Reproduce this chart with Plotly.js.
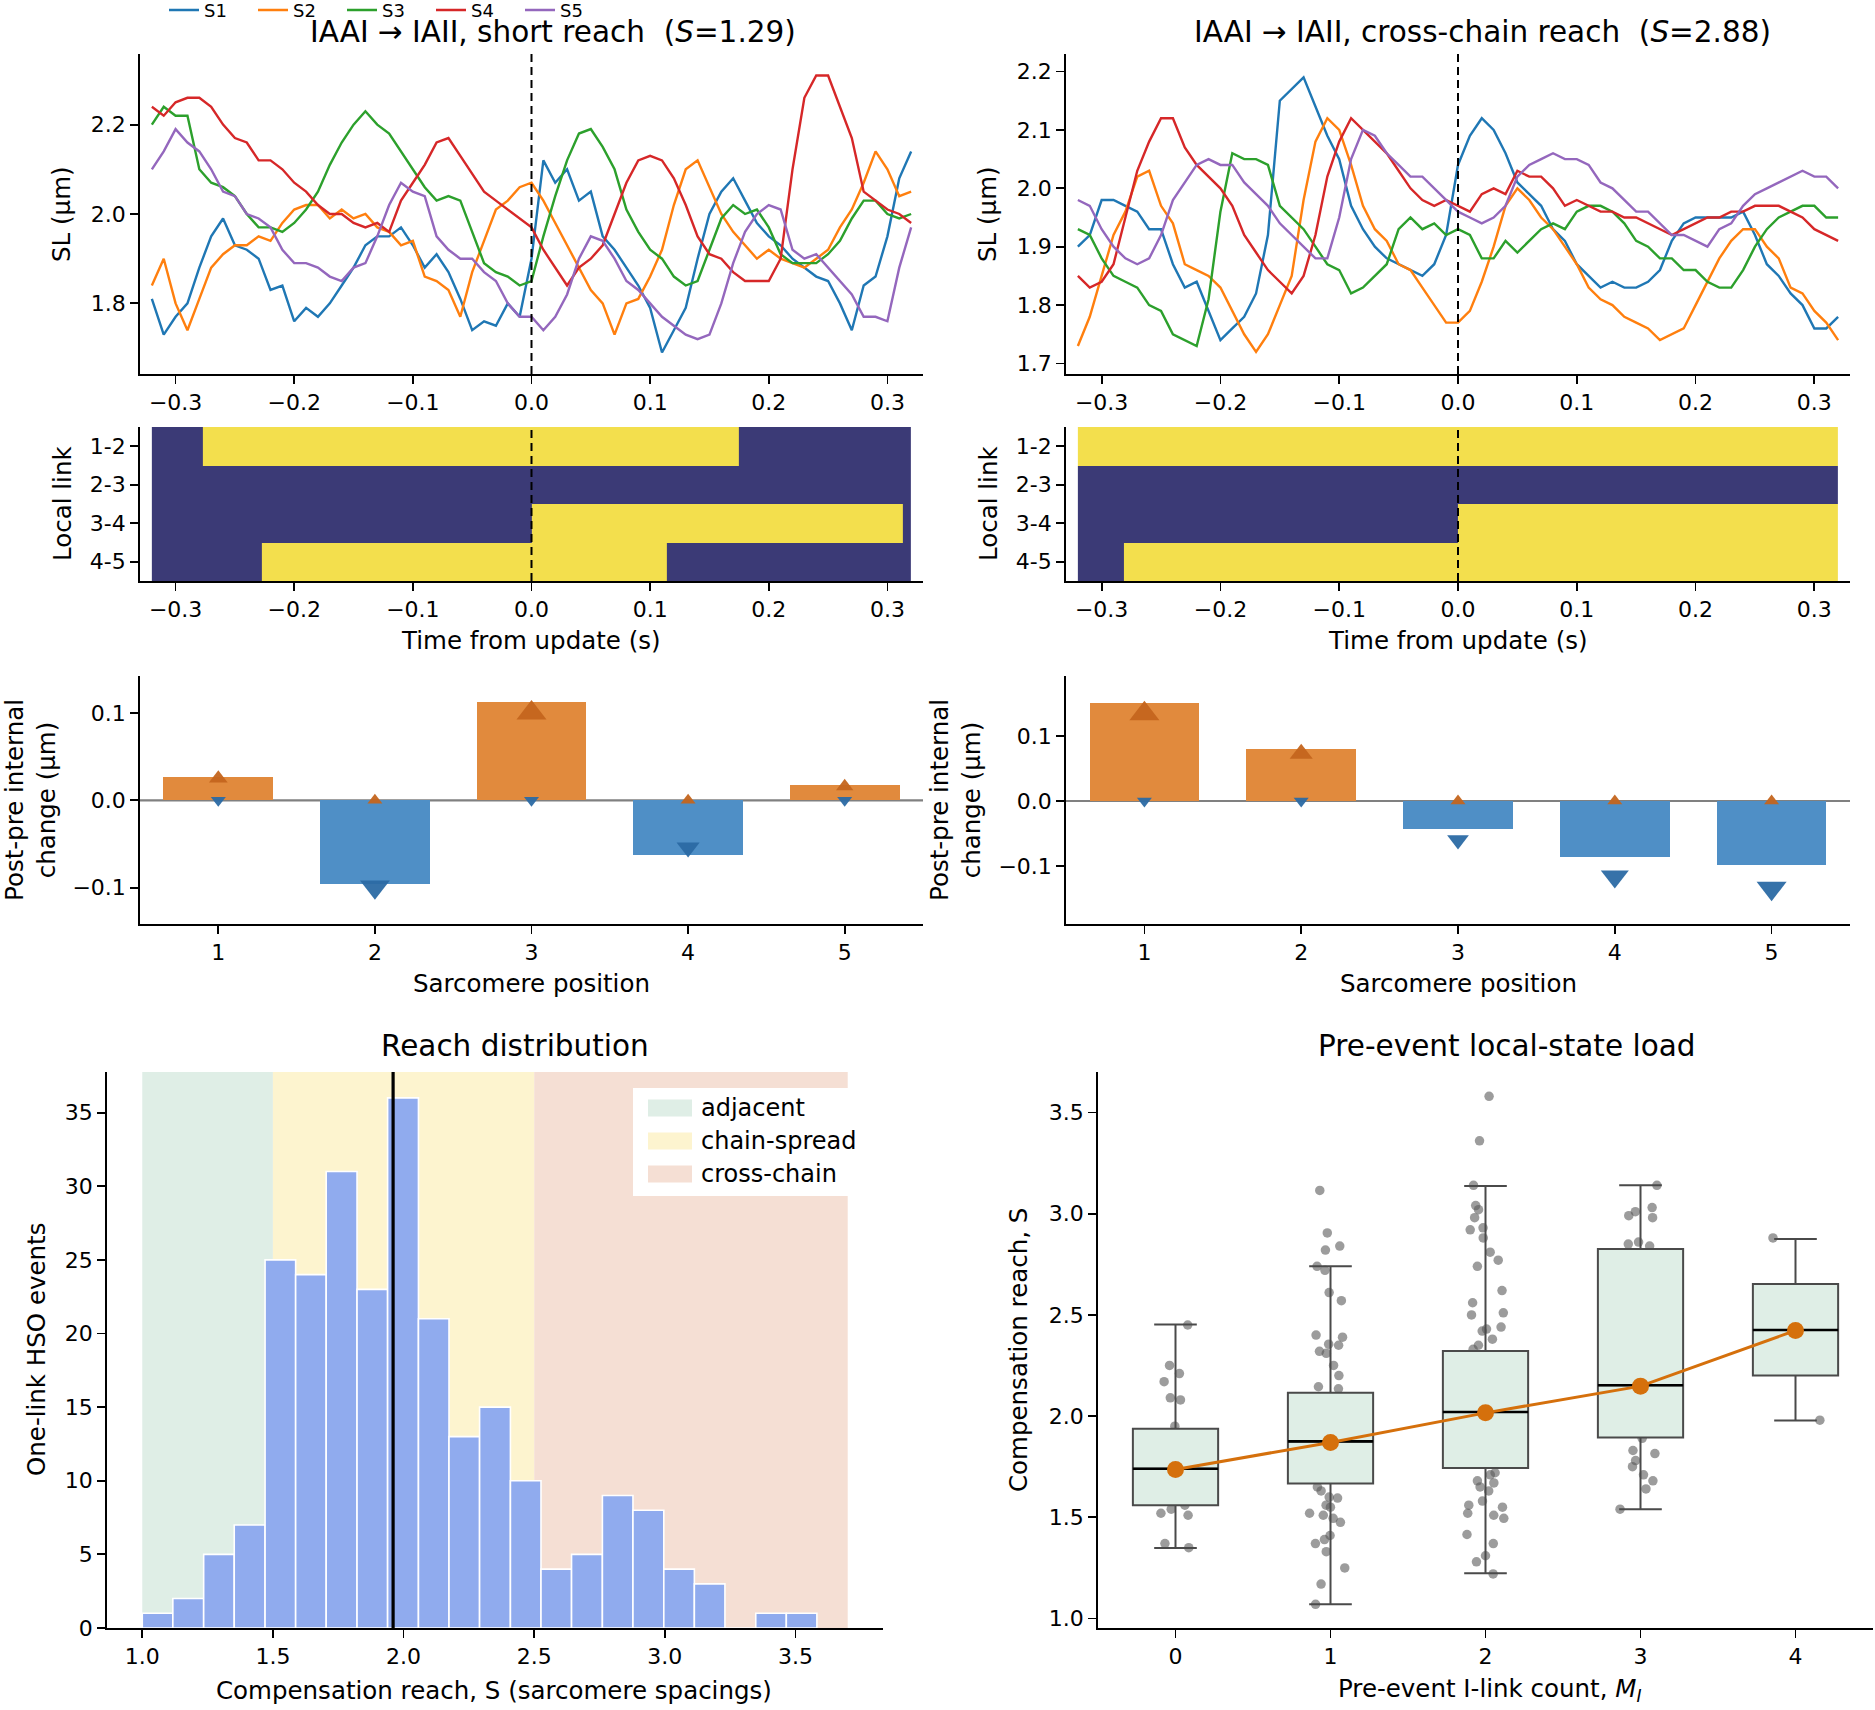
<!DOCTYPE html>
<html><head><meta charset="utf-8">
<script src="https://cdn.plot.ly/plotly-3.0.1.min.js"></script>
<style>html,body{margin:0;padding:0;background:#fff}#chart{width:1875px;height:1710px}</style>
</head><body><div id="chart"></div>
<script>
// ---------------- DATA ----------------
const seriesNames = ['S1','S2','S3','S4','S5'];
const seriesColors = ['#1f77b4','#ff7f0e','#2ca02c','#d62728','#9467bd'];
const time = [-0.32,-0.31,-0.30,-0.29,-0.28,-0.27,-0.26,-0.25,-0.24,-0.23,-0.22,-0.21,-0.20,-0.19,-0.18,-0.17,-0.16,-0.15,-0.14,-0.13,-0.12,-0.11,-0.10,-0.09,-0.08,-0.07,-0.06,-0.05,-0.04,-0.03,-0.02,-0.01,0.00,0.01,0.02,0.03,0.04,0.05,0.06,0.07,0.08,0.09,0.10,0.11,0.12,0.13,0.14,0.15,0.16,0.17,0.18,0.19,0.20,0.21,0.22,0.23,0.24,0.25,0.26,0.27,0.28,0.29,0.30,0.31,0.32];

// short reach event (S=1.29)
const shortS1 = [1.81,1.73,1.77,1.80,1.88,1.95,1.99,1.93,1.92,1.90,1.83,1.84,1.76,1.79,1.77,1.80,1.84,1.88,1.93,1.95,1.95,1.97,1.93,1.88,1.91,1.87,1.81,1.74,1.76,1.75,1.80,1.77,1.90,2.12,2.07,2.10,2.03,2.05,1.95,1.92,1.88,1.84,1.79,1.69,1.74,1.79,1.90,2.00,2.05,2.08,2.03,1.98,1.95,1.93,1.90,1.88,1.86,1.85,1.80,1.74,1.84,1.86,1.95,2.08,2.14];
const shortS2 = [1.84,1.90,1.80,1.74,1.81,1.88,1.91,1.93,1.93,1.95,1.94,1.98,2.01,2.02,2.02,1.99,2.01,1.99,2.00,1.97,1.96,1.93,1.94,1.86,1.85,1.83,1.77,1.87,1.94,2.01,2.03,2.06,2.07,2.03,1.98,1.93,1.88,1.83,1.80,1.73,1.80,1.81,1.86,1.92,2.02,2.10,2.12,2.06,2.00,1.96,1.93,1.90,1.92,1.90,1.89,1.88,1.90,1.92,1.97,2.01,2.07,2.14,2.10,2.04,2.05];
const shortS3 = [2.20,2.24,2.22,2.22,2.10,2.07,2.06,2.04,2.00,1.97,1.97,1.96,1.98,2.01,2.05,2.11,2.16,2.20,2.23,2.20,2.18,2.14,2.10,2.06,2.03,2.04,2.03,1.96,1.89,1.87,1.86,1.84,1.85,1.95,2.04,2.12,2.18,2.19,2.15,2.10,2.01,1.96,1.92,1.90,1.86,1.84,1.85,1.92,1.99,2.02,2.00,2.01,1.97,1.91,1.89,1.89,1.89,1.91,1.94,1.99,2.03,2.03,2.00,1.99,2.00];
const shortS4 = [2.24,2.22,2.25,2.26,2.26,2.24,2.20,2.17,2.16,2.12,2.12,2.10,2.07,2.05,2.02,2.00,2.00,1.98,1.97,1.98,1.96,2.03,2.07,2.11,2.16,2.17,2.13,2.09,2.05,2.03,2.01,1.99,1.97,1.92,1.88,1.84,1.88,1.90,1.93,2.00,2.07,2.12,2.13,2.12,2.08,2.02,1.95,1.91,1.90,1.87,1.85,1.85,1.85,1.90,2.10,2.26,2.31,2.31,2.24,2.17,2.05,2.03,2.01,2.00,1.98];
const shortS5 = [2.10,2.14,2.19,2.16,2.14,2.10,2.05,2.04,2.00,1.99,1.97,1.92,1.89,1.89,1.88,1.86,1.85,1.88,1.89,1.95,2.02,2.07,2.05,2.04,1.95,1.92,1.90,1.90,1.87,1.85,1.80,1.77,1.77,1.74,1.77,1.82,1.90,1.95,1.94,1.90,1.85,1.83,1.80,1.77,1.75,1.73,1.72,1.73,1.80,1.89,1.96,2.00,2.02,2.01,1.92,1.90,1.91,1.88,1.85,1.82,1.77,1.77,1.76,1.88,1.97];

// cross-chain event (S=2.88)
const crossS1 = [1.90,1.92,1.98,1.98,1.97,1.96,1.93,1.93,1.87,1.83,1.84,1.79,1.74,1.76,1.78,1.82,1.92,2.15,2.17,2.19,2.14,2.09,2.05,1.97,1.93,1.90,1.88,1.87,1.86,1.85,1.87,1.92,2.04,2.09,2.12,2.10,2.06,2.01,1.99,1.97,1.93,1.91,1.87,1.85,1.83,1.84,1.83,1.83,1.84,1.86,1.91,1.94,1.95,1.95,1.95,1.95,1.96,1.92,1.87,1.85,1.82,1.80,1.76,1.76,1.78];
const crossS2 = [1.73,1.78,1.85,1.92,1.96,2.02,2.03,1.97,1.94,1.87,1.86,1.85,1.83,1.79,1.75,1.72,1.75,1.80,1.85,1.98,2.08,2.12,2.10,2.04,1.97,1.93,1.91,1.87,1.86,1.83,1.80,1.77,1.77,1.79,1.84,1.90,1.97,2.00,1.98,1.95,1.93,1.90,1.87,1.83,1.81,1.80,1.78,1.77,1.76,1.74,1.75,1.76,1.80,1.84,1.88,1.91,1.93,1.93,1.90,1.88,1.83,1.82,1.79,1.77,1.74];
const crossS3 = [1.93,1.92,1.88,1.85,1.84,1.83,1.80,1.79,1.75,1.74,1.73,1.81,1.96,2.06,2.05,2.05,2.04,1.97,1.95,1.93,1.90,1.87,1.86,1.82,1.83,1.85,1.87,1.93,1.95,1.93,1.94,1.92,1.93,1.92,1.88,1.88,1.91,1.89,1.91,1.93,1.94,1.93,1.96,1.97,1.97,1.96,1.94,1.91,1.90,1.88,1.88,1.86,1.86,1.84,1.83,1.83,1.86,1.90,1.93,1.95,1.96,1.97,1.97,1.95,1.95];
const crossS4 = [1.85,1.83,1.84,1.87,1.95,2.03,2.08,2.12,2.12,2.07,2.04,2.02,2.00,1.97,1.92,1.89,1.86,1.84,1.82,1.85,1.92,2.02,2.08,2.12,2.10,2.08,2.06,2.03,2.00,1.98,1.97,1.98,1.97,1.96,1.99,2.00,1.99,2.03,2.02,2.02,2.00,1.97,1.98,1.97,1.96,1.96,1.95,1.95,1.94,1.93,1.92,1.93,1.94,1.95,1.95,1.96,1.96,1.97,1.97,1.97,1.96,1.95,1.93,1.92,1.91];
const crossS5 = [1.98,1.97,1.93,1.90,1.88,1.87,1.88,1.92,1.98,2.01,2.04,2.05,2.04,2.04,2.01,1.99,1.97,1.94,1.92,1.90,1.88,1.88,1.95,2.05,2.10,2.09,2.06,2.04,2.02,2.02,2.00,1.98,1.96,1.95,1.94,1.95,1.97,2.02,2.04,2.05,2.06,2.05,2.05,2.04,2.01,2.00,1.98,1.96,1.96,1.94,1.92,1.92,1.91,1.90,1.93,1.94,1.97,1.99,2.00,2.01,2.02,2.03,2.02,2.02,2.00];

// local link states (0 = off, 1 = on) over time segments
const linkLabels = ['1-2','2-3','3-4','4-5'];
const shortLinkEdges = [-0.32,-0.277,-0.227,0.0,0.114,0.175,0.313,0.32];
const shortLinkStates = [
  [0,1,1,1,1,0,0],
  [0,0,0,0,0,0,0],
  [0,0,0,1,1,1,0],
  [0,0,1,1,0,0,0]
];
const crossLinkEdges = [-0.32,-0.281,0.0,0.32];
const crossLinkStates = [
  [1,1,1],
  [0,0,0],
  [0,0,1],
  [0,1,1]
];

// post-pre internal change per sarcomere
const positions = [1,2,3,4,5];
const shortChange = [0.027,-0.0955,0.112,-0.062,0.018];
const shortGain   = [0.025,0.0,0.100,0.0,0.016];
const shortLoss   = [0.0,-0.099,0.0,-0.054,0.0];
const crossChange = [0.150,0.0806,-0.0435,-0.0858,-0.0986];
const crossGain   = [0.134,0.0725,0.0,0.0,0.0];
const crossLoss   = [0.0,0.0,-0.060,-0.116,-0.134];

// reach distribution histogram
const binEdges = [1.000,1.117,1.235,1.352,1.470,1.587,1.704,1.822,1.939,2.057,2.174,2.291,2.409,2.526,2.643,2.761,2.878,2.996,3.113,3.230,3.348,3.465,3.582];
const binCounts = [1,2,5,7,25,24,31,23,36,21,13,15,10,4,5,9,8,4,3,0,1,1];
const reachMedian = 1.96;
const regionNames = ['adjacent','chain-spread','cross-chain'];
const regionEdges = [1.0,1.5,2.5,3.7];
const regionColors = ['#dfeee6','#fdf4cf','#f5dfd4'];

// pre-event local-state load
const linkCounts = [0,1,2,3,4];
const boxQ1 = [1.559,1.667,1.744,1.894,2.201];
const boxMedian = [1.740,1.875,2.020,2.152,2.425];
const boxQ3 = [1.938,2.115,2.321,2.826,2.652];
const boxLow = [1.348,1.070,1.223,1.540,1.978];
const boxHigh = [2.452,2.740,3.137,3.141,2.875];
const boxMean = [1.736,1.870,2.016,2.148,2.423];
const reachM0 = [2.45,2.25,2.21,2.17,2.09,2.08,1.95,1.56,1.54,1.52,1.51,1.37,1.35];
const reachM1 = [3.115,2.905,2.84,2.82,2.74,2.72,2.61,2.57,2.40,2.39,2.355,2.35,2.32,2.31,2.25,2.20,2.145,2.135,1.65,1.63,1.60,1.595,1.56,1.55,1.52,1.51,1.495,1.475,1.41,1.39,1.37,1.33,1.25,1.17,1.07];
const reachM2 = [3.58,3.36,3.14,3.04,3.02,2.98,2.93,2.92,2.88,2.81,2.77,2.74,2.62,2.56,2.51,2.50,2.44,2.43,2.42,2.38,2.35,2.33,1.72,1.71,1.68,1.67,1.65,1.63,1.58,1.56,1.55,1.52,1.51,1.495,1.415,1.37,1.31,1.28,1.22];
const reachM3 = [3.14,3.03,3.01,2.99,2.98,2.86,2.85,2.84,1.89,1.83,1.815,1.78,1.75,1.71,1.68,1.64,1.54];
const reachM4 = [2.88,1.98];

// ---------------- FIGURE ----------------
const W = 1875, H = 1710;
const FONT = 'DejaVu Sans, Liberation Sans, sans-serif';
const px = v => v / W;
const py = v => 1 - v / H;

const colL = [px(140), px(923)];
const colR = [px(1066), px(1850)];
const row1 = [py(374), py(54)];
const row2 = [py(581), py(427)];
const row3 = [py(924), py(676)];
const row4 = [py(1628), py(1072)];

function ax(extra) {
  return Object.assign({
    showline: true, linecolor: '#000', linewidth: 1.8, mirror: false,
    ticks: 'outside', ticklen: 8, tickwidth: 1.8, tickcolor: '#000',
    showgrid: false, zeroline: false, automargin: false,
    tickfont: {family: FONT, size: 22, color: '#000'}
  }, extra);
}

const traces = [];
const shortSeries = [shortS1, shortS2, shortS3, shortS4, shortS5];
const crossSeries = [crossS1, crossS2, crossS3, crossS4, crossS5];
shortSeries.forEach((s, i) => traces.push({
  type: 'scatter', mode: 'lines', x: time, y: s, xaxis: 'x', yaxis: 'y',
  name: seriesNames[i], legend: 'legend', line: {color: seriesColors[i], width: 2.4}, hoverinfo: 'skip'
}));
crossSeries.forEach((s, i) => traces.push({
  type: 'scatter', mode: 'lines', x: time, y: s, xaxis: 'x2', yaxis: 'y2',
  name: seriesNames[i], showlegend: false, line: {color: seriesColors[i], width: 2.4}, hoverinfo: 'skip'
}));

const heatScale = [[0, '#3b3a76'], [1, '#f3df4d']];
traces.push({type: 'heatmap', x: shortLinkEdges, y: [0,1,2,3], z: shortLinkStates, xaxis: 'x3', yaxis: 'y3',
  colorscale: heatScale, zmin: 0, zmax: 1, showscale: false, hoverinfo: 'skip'});
traces.push({type: 'heatmap', x: crossLinkEdges, y: [0,1,2,3], z: crossLinkStates, xaxis: 'x4', yaxis: 'y4',
  colorscale: heatScale, zmin: 0, zmax: 1, showscale: false, hoverinfo: 'skip'});

function barPanel(change, gain, loss, xa, ya) {
  const maxAbs = Math.max(...gain.map(Math.abs), ...loss.map(Math.abs));
  traces.push({type: 'bar', x: positions, y: change, xaxis: xa, yaxis: ya, width: 0.7, showlegend: false,
    marker: {color: change.map(v => v >= 0 ? '#e18a3d' : '#4f8fc6'), line: {width: 0}}, hoverinfo: 'skip'});
  traces.push({type: 'scatter', mode: 'markers', x: positions, y: gain, xaxis: xa, yaxis: ya, showlegend: false,
    marker: {symbol: 'triangle-up', color: '#c4651d', opacity: 0.95,
      size: gain.map(v => 13 + 13 * Math.abs(v) / maxAbs), line: {width: 0}}, hoverinfo: 'skip'});
  traces.push({type: 'scatter', mode: 'markers', x: positions, y: loss, xaxis: xa, yaxis: ya, showlegend: false,
    marker: {symbol: 'triangle-down', color: '#2b6aa4', opacity: 0.95,
      size: loss.map(v => 13 + 13 * Math.abs(v) / maxAbs), line: {width: 0}}, hoverinfo: 'skip'});
}
barPanel(shortChange, shortGain, shortLoss, 'x5', 'y5');
barPanel(crossChange, crossGain, crossLoss, 'x6', 'y6');

// histogram
const binCenters = binCounts.map((c, i) => (binEdges[i] + binEdges[i + 1]) / 2);
const binWidths = binCounts.map((c, i) => binEdges[i + 1] - binEdges[i]);
traces.push({type: 'bar', x: binCenters, y: binCounts, width: binWidths, xaxis: 'x7', yaxis: 'y7', showlegend: false,
  marker: {color: '#90abee', line: {color: '#ffffff', width: 1.6}}, hoverinfo: 'skip'});

// box plot
const groups = [reachM0, reachM1, reachM2, reachM3, reachM4];
const ptsX = [], ptsY = [];
groups.forEach((g, i) => g.forEach(v => { ptsX.push(linkCounts[i]); ptsY.push(v); }));
traces.push({type: 'box', x: ptsX, y: ptsY, xaxis: 'x8', yaxis: 'y8', showlegend: false,
  boxpoints: 'all', jitter: 0.6, pointpos: 0, width: 0.55,
  fillcolor: 'rgba(0,0,0,0)', line: {color: 'rgba(0,0,0,0)', width: 0},
  marker: {color: 'rgba(90,90,90,0.6)', size: 9.5}, hoverinfo: 'skip'});
traces.push({type: 'box', x: linkCounts, q1: boxQ1, median: boxMedian, q3: boxQ3,
  lowerfence: boxLow, upperfence: boxHigh, xaxis: 'x8', yaxis: 'y8', showlegend: false,
  boxpoints: false, width: 0.55, whiskerwidth: 0.5, fillcolor: '#dfeee6',
  line: {color: '#4a4a4a', width: 2}, hoverinfo: 'skip'});
traces.push({type: 'box', x: linkCounts, q1: boxMedian, median: boxMedian, q3: boxMedian,
  lowerfence: boxMedian, upperfence: boxMedian, xaxis: 'x8', yaxis: 'y8', showlegend: false,
  boxpoints: false, width: 0.55, whiskerwidth: 0, fillcolor: 'rgba(0,0,0,0)',
  line: {color: '#000000', width: 2.6}, hoverinfo: 'skip'});
traces.push({type: 'scatter', mode: 'lines+markers', x: linkCounts, y: boxMean, xaxis: 'x8', yaxis: 'y8', showlegend: false,
  line: {color: '#d5700c', width: 3}, marker: {color: '#d5700c', size: 17}, hoverinfo: 'skip'});

// shapes
const shapes = [];
[['x','y'],['x2','y2'],['x3','y3'],['x4','y4']].forEach(([xa, ya]) => shapes.push({
  type: 'line', xref: xa, yref: ya + ' domain', x0: 0, x1: 0, y0: 0, y1: 1, layer: 'above',
  line: {color: '#000', width: 2, dash: '8px,5px'}
}));
[['x5','y5'],['x6','y6']].forEach(([xa, ya]) => shapes.push({
  type: 'line', xref: xa + ' domain', yref: ya, x0: 0, x1: 1, y0: 0, y1: 0, layer: 'below',
  line: {color: '#808080', width: 2.2}
}));
regionNames.forEach((n, i) => shapes.push({
  type: 'rect', xref: 'x7', yref: 'y7 domain', x0: regionEdges[i], x1: regionEdges[i + 1], y0: 0, y1: 1,
  fillcolor: regionColors[i], line: {width: 0}, layer: 'below'
}));
shapes.push({type: 'line', xref: 'x7', yref: 'y7 domain', x0: reachMedian, x1: reachMedian, y0: 0, y1: 1,
  layer: 'above', line: {color: '#000', width: 3.2}});

// histogram legend (drawn box, patches, labels)
const legBox = {x0: 633, x1: 851, y0: 1088, y1: 1196};
const legRowsY = [1108, 1141, 1174];
shapes.push({type: 'rect', xref: 'paper', yref: 'paper', x0: px(legBox.x0), x1: px(legBox.x1),
  y0: py(legBox.y1), y1: py(legBox.y0), fillcolor: '#ffffff', line: {width: 0}, layer: 'above'});
regionNames.forEach((n, i) => shapes.push({type: 'rect', xref: 'paper', yref: 'paper',
  x0: px(648), x1: px(692), y0: py(legRowsY[i] + 8.5), y1: py(legRowsY[i] - 8.5),
  fillcolor: regionColors[i], line: {width: 0}, layer: 'above'}));

// annotations (titles & axis labels)
const tFont = {family: FONT, size: 29.5, color: '#000'};
const lFont = {family: FONT, size: 24.5, color: '#000'};
function ann(text, x, y, font, angle, anchor) {
  return {text: text, x: px(x), y: py(y), xref: 'paper', yref: 'paper', showarrow: false,
    xanchor: anchor || 'center', yanchor: 'middle', font: font, textangle: angle || 0};
}
const annotations = [
  ann('IAAI → IAII, short reach\u00a0\u00a0(<i>S</i>=1.29)', 553, 32, tFont),
  ann('IAAI → IAII, cross-chain reach\u00a0\u00a0(<i>S</i>=2.88)', 1482, 32, tFont),
  ann('SL (μm)', 62, 214, lFont, -90),
  ann('SL (μm)', 988, 214, lFont, -90),
  ann('Local link', 62, 504, lFont, -90),
  ann('Local link', 988, 504, lFont, -90),
  ann('Time from update (s)', 531, 640, lFont),
  ann('Time from update (s)', 1458, 640, lFont),
  ann('Post-pre internal<br>change (μm)', 30, 800, lFont, -90),
  ann('Post-pre internal<br>change (μm)', 955, 800, lFont, -90),
  ann('Sarcomere position', 531, 983, lFont),
  ann('Sarcomere position', 1458, 983, lFont),
  ann('Reach distribution', 515, 1046, tFont),
  ann('Pre-event local-state load', 1506, 1046, tFont),
  ann('One-link HSO events', 36, 1350, lFont, -90),
  ann('Compensation reach, S', 1018, 1350, lFont, -90),
  ann('Compensation reach, S (sarcomere spacings)', 494, 1690, lFont),
  ann('Pre-event I-link count, <i>M</i><sub><i>I</i></sub>', 1489, 1690, lFont)
];
regionNames.forEach((n, i) => annotations.push(ann(n, 699, legRowsY[i], {family: FONT, size: 24, color: '#000'}, 0, 'left')));

const layout = {
  width: W, height: H,
  margin: {l: 0, r: 0, t: 0, b: 0, pad: 0, autoexpand: false},
  paper_bgcolor: '#fff', plot_bgcolor: 'rgba(0,0,0,0)',
  font: {family: FONT, color: '#000'},
  boxmode: 'overlay', bargap: 0,
  showlegend: true,
  legend: {orientation: 'h', x: px(164), xanchor: 'left', y: 1.0048, yanchor: 'top',
    bgcolor: 'rgba(0,0,0,0)', font: {family: FONT, size: 18, color: '#000'}, itemwidth: 30,
    entrywidth: 44, entrywidthmode: 'pixels', tracegroupgap: 0, traceorder: 'normal'},
  xaxis: ax({domain: colL, anchor: 'y', range: [-0.33, 0.33], dtick: 0.1, tick0: 0, tickformat: '.1f'}),
  yaxis: ax({domain: row1, anchor: 'x', range: [1.642, 2.358], tickvals: [1.8, 2.0, 2.2], tickformat: '.1f'}),
  xaxis2: ax({domain: colR, anchor: 'y2', range: [-0.33, 0.33], dtick: 0.1, tick0: 0, tickformat: '.1f'}),
  yaxis2: ax({domain: row1, anchor: 'x2', range: [1.682, 2.230], dtick: 0.1, tick0: 0, tickformat: '.1f'}),
  xaxis3: ax({domain: colL, anchor: 'y3', range: [-0.33, 0.33], dtick: 0.1, tick0: 0, tickformat: '.1f'}),
  yaxis3: ax({domain: row2, anchor: 'x3', range: [3.5, -0.5], tickvals: [0,1,2,3], ticktext: linkLabels}),
  xaxis4: ax({domain: colR, anchor: 'y4', range: [-0.33, 0.33], dtick: 0.1, tick0: 0, tickformat: '.1f'}),
  yaxis4: ax({domain: row2, anchor: 'x4', range: [3.5, -0.5], tickvals: [0,1,2,3], ticktext: linkLabels}),
  xaxis5: ax({domain: colL, anchor: 'y5', range: [0.5, 5.5], tickvals: positions}),
  yaxis5: ax({domain: row3, anchor: 'x5', range: [-0.1415, 0.1423], tickvals: [-0.1, 0, 0.1], tickformat: '.1f'}),
  xaxis6: ax({domain: colR, anchor: 'y6', range: [0.5, 5.5], tickvals: positions}),
  yaxis6: ax({domain: row3, anchor: 'x6', range: [-0.189, 0.192], tickvals: [-0.1, 0, 0.1], tickformat: '.1f'}),
  xaxis7: ax({domain: [px(107), px(883)], anchor: 'y7', range: [0.865, 3.835], tickvals: [1.0,1.5,2.0,2.5,3.0,3.5], tickformat: '.1f'}),
  yaxis7: ax({domain: row4, anchor: 'x7', range: [0, 37.76], dtick: 5, tick0: 0}),
  xaxis8: ax({domain: [px(1098), px(1873)], anchor: 'y8', range: [-0.5, 4.5], tickvals: linkCounts}),
  yaxis8: ax({domain: row4, anchor: 'x8', range: [0.953, 3.70], tickvals: [1.0,1.5,2.0,2.5,3.0,3.5], tickformat: '.1f'}),
  shapes: shapes,
  annotations: annotations
};

Plotly.newPlot('chart', traces, layout, {displayModeBar: false, staticPlot: true});
</script>
</body></html>
